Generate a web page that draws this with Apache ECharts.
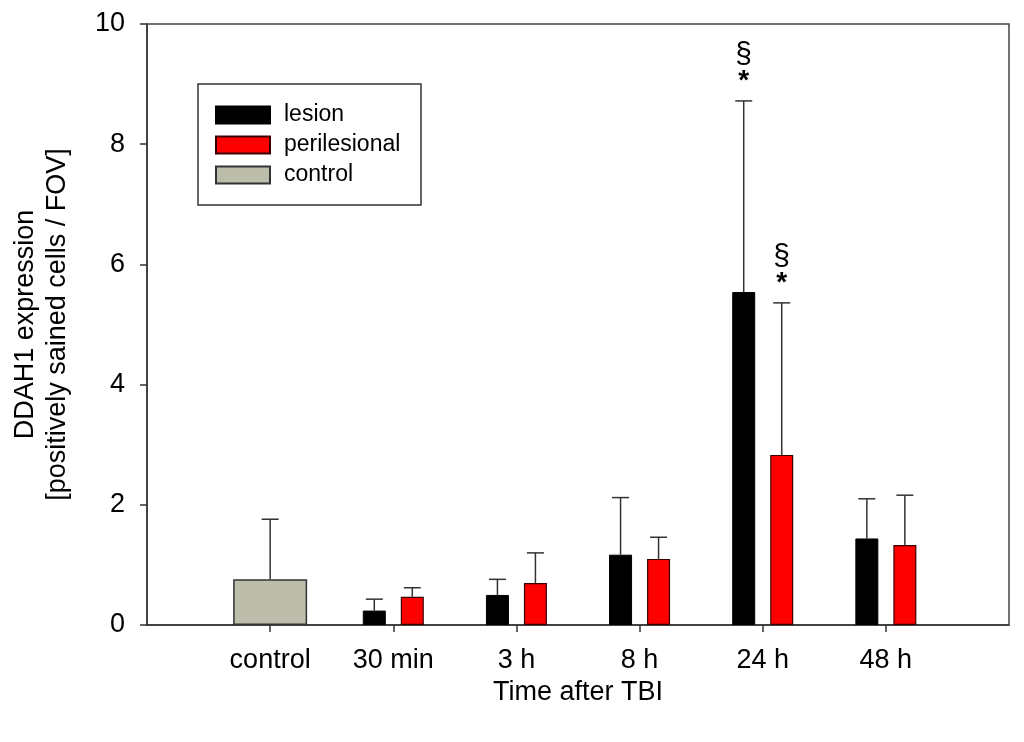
<!DOCTYPE html>
<html>
<head>
<meta charset="utf-8">
<script src="https://cdn.jsdelivr.net/npm/echarts@6/dist/echarts.min.js"></script>
<style>html,body{margin:0;padding:0;background:#fff}#c{width:1024px;height:742px}</style>
</head>
<body>
<div id="c"></div>
<script>
// ---- data ----
const categories = ['', 'control', '30 min', '3 h', '8 h', '24 h', '48 h', ''];
const lesion      = [null, null, 0.24, 0.50, 1.17, 5.54, 1.44, null];
const lesionErr   = [null, null, 0.43, 0.76, 2.12, 8.72, 2.10, null];
const peri        = [null, null, 0.47, 0.70, 1.10, 2.83, 1.33, null];
const periErr     = [null, null, 0.62, 1.20, 1.46, 5.36, 2.16, null];
const control     = [null, 0.76, null, null, null, null, null, null];
const controlErr  = [null, 1.76, null, null, null, null, null, null];
const lesionSig   = ['', '', '', '', '', '§*', '', ''];
const periSig     = ['', '', '', '', '', '§*', '', ''];
const yTicks = [0, 2, 4, 6, 8, 10];

const FONT = '"Liberation Sans", Arial, sans-serif';
const BAR_W = 23, GAP = 15;
const OFF = (BAR_W + GAP) / 2;

function errData(vals, errs, sig) {
  const out = [];
  vals.forEach((v, i) => { if (v != null) out.push([i, v, errs[i], sig ? (sig[i] ? 1 : 0) : 0]); });
  return out;
}
function makeErr(offset) {
  return function (params, api) {
    const x = api.value(0), v = api.value(1), e = api.value(2), s = api.value(3);
    const p0 = api.coord([x, v]);
    const p1 = api.coord([x, e]);
    const cx = p0[0] + offset;
    const st = { stroke: '#333', lineWidth: 1.5 };
    const children = [
      { type: 'line', shape: { x1: cx, y1: p0[1], x2: cx, y2: p1[1] }, style: st },
      { type: 'line', shape: { x1: cx - 8.5, y1: p1[1], x2: cx + 8.5, y2: p1[1] }, style: st }
    ];
    if (s) {
      children.push({ type: 'text', style: { text: '*', x: cx, y: p1[1] - 20, align: 'center', verticalAlign: 'middle', font: 'bold 28px ' + FONT, fill: '#000' } });
      children.push({ type: 'text', style: { text: '§', x: cx, y: p1[1] - 46, align: 'center', verticalAlign: 'middle', font: '30px ' + FONT, fill: '#000' } });
    }
    return { type: 'group', children };
  };
}

const chart = echarts.init(document.getElementById('c'), null, { renderer: 'canvas' });
chart.setOption({
  animation: false,
  backgroundColor: '#fff',
  textStyle: { fontFamily: FONT },
  grid: { left: 147, right: 15, top: 24, bottom: 117, show: true, borderColor: '#444', borderWidth: 1.5, containLabel: false },
  graphic: [{
    type: 'rect', z: 1, shape: { x: 198, y: 84, width: 223, height: 121 },
    style: { fill: 'transparent', stroke: '#333', lineWidth: 1.5 }
  }],
  legend: {
    data: ['lesion', 'perilesional', 'control'],
    orient: 'vertical', left: 215, top: 103.5, padding: 0, itemWidth: 54, itemHeight: 17, itemGap: 7,
    icon: 'rect', selectedMode: false,
    textStyle: { fontSize: 23, color: '#000', fontFamily: FONT, padding: [0, 0, 0, 9] }
  },
  xAxis: [{
    type: 'category', data: categories, boundaryGap: false,
    axisLine: { lineStyle: { color: '#333', width: 1.5 } },
    axisTick: { length: 7, inside: false, interval: (i) => i > 0 && i < categories.length - 1, lineStyle: { color: '#333', width: 1.5 } },
    axisLabel: { interval: 0, fontSize: 27, color: '#000', margin: 22, fontFamily: FONT },
    splitLine: { show: false },
    name: 'Time after TBI', nameLocation: 'middle', nameGap: 52,
    nameTextStyle: { fontSize: 27, color: '#000', fontFamily: FONT }
  }, {
    type: 'category', data: categories, boundaryGap: false, show: false, position: 'bottom'
  }],
  yAxis: {
    type: 'value', min: 0, max: 10, interval: 2,
    axisLine: { show: true, lineStyle: { color: '#333', width: 1.5 } },
    axisTick: { show: true, length: 7, lineStyle: { color: '#333', width: 1.5 } },
    axisLabel: { fontSize: 27, color: '#000', margin: 22, fontFamily: FONT,
      formatter: (v) => yTicks.includes(v) ? String(v) : '' },
    splitLine: { show: false },
    name: 'DDAH1 expression\n[positively sained cells / FOV]',
    nameLocation: 'middle', nameRotate: 90, nameGap: 73,
    nameTextStyle: { fontSize: 27, color: '#000', fontFamily: FONT, lineHeight: 32 }
  },
  series: [
    { name: 'lesion', type: 'bar', xAxisIndex: 0, data: lesion, barWidth: BAR_W, barGap: (GAP / BAR_W * 100) + '%',
      itemStyle: { color: '#000', borderColor: '#000', borderWidth: 1 } },
    { name: 'perilesional', type: 'bar', xAxisIndex: 0, data: peri, barWidth: BAR_W, barGap: (GAP / BAR_W * 100) + '%',
      itemStyle: { color: '#ff0000', borderColor: '#3a0000', borderWidth: 1.2 } },
    { name: 'control', type: 'bar', xAxisIndex: 1, data: control, barWidth: 74,
      itemStyle: { color: '#bcbdab', borderColor: '#333', borderWidth: 1.5 } },
    { name: 'errL', type: 'custom', xAxisIndex: 0, renderItem: makeErr(-OFF), data: errData(lesion, lesionErr, lesionSig), z: 3 },
    { name: 'errP', type: 'custom', xAxisIndex: 0, renderItem: makeErr(OFF), data: errData(peri, periErr, periSig), z: 3 },
    { name: 'errC', type: 'custom', xAxisIndex: 1, renderItem: makeErr(0), data: errData(control, controlErr, null), z: 3 }
  ]
});
</script>
</body>
</html>
